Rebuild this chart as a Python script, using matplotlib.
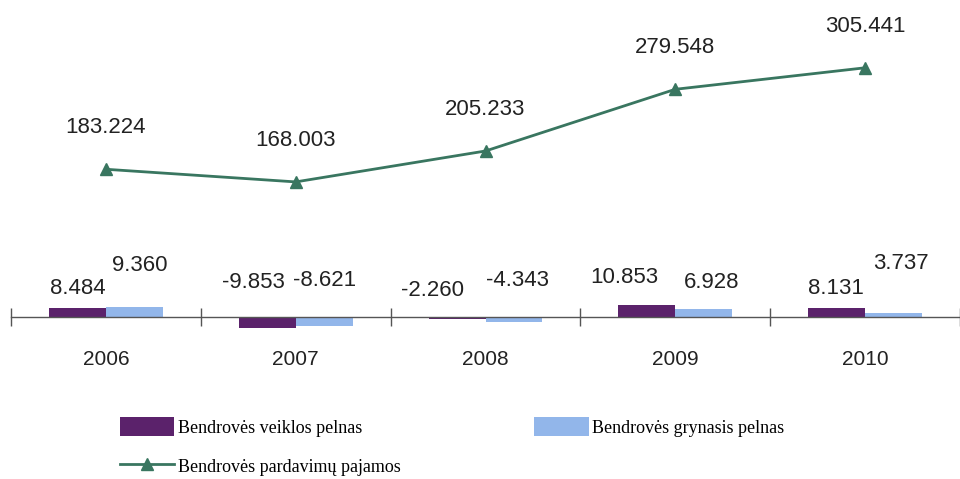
import matplotlib
matplotlib.use('Agg')
import matplotlib.pyplot as plt
import numpy as np

years = ['2006', '2007', '2008', '2009', '2010']
veiklos_pelnas = [8.484, -9.853, -2.260, 10.853, 8.131]
grynasis_pelnas = [9.360, -8.621, -4.343, 6.928, 3.737]
pardavimu_pajamos = [183.224, 168.003, 205.233, 279.548, 305.441]

label_op = 'Bendrovės veiklos pelnas'
label_net = 'Bendrovės grynasis pelnas'
label_sales = 'Bendrovės pardavimų pajamos'

# value label nudges (pixels, relative to bar centre on the zero line)
op_nudge = [(0, 29), (-14, 35), (-25, 27), (-23, 40), (-1, 29)]
net_nudge = [(5, 52), (0, 37), (4, 37), (8, 35), (7, 54)]

purple = '#5b226b'
blue = '#92b6ea'
green = '#397660'
txt = '#222222'

plt.rcParams['font.family'] = ['Liberation Sans', 'DejaVu Sans']

fig = plt.figure(figsize=(9.6, 4.79), dpi=100)
W, H = 960, 479
px = 72 / 100  # pixel -> point
# axes box in pixels: x 11..960, y 20..340 (from top)
ax = fig.add_axes([11 / W, 1 - 340 / H, 949 / W, 320 / H])
x = np.arange(len(years))
bw = 0.3

b1 = ax.bar(x - bw / 2, veiklos_pelnas, bw, color=purple, label=label_op, zorder=2)
b2 = ax.bar(x + bw / 2, grynasis_pelnas, bw, color=blue, label=label_net, zorder=2)
ax.set_ylim(-20.9, 270)
ax.set_xlim(-0.5, len(years) - 0.5)

for sp in ['top', 'right', 'left']:
    ax.spines[sp].set_visible(False)
ax.spines['bottom'].set_position(('data', 0))
ax.spines['bottom'].set_color('#555555')
ax.spines['bottom'].set_linewidth(1)
ax.set_yticks([])
ax.set_xticks(x)
ax.set_xticklabels(years, fontsize=15, color=txt)
ax.tick_params(axis='x', which='major', length=0, pad=24)
ax.set_xticks(np.arange(-0.5, len(years)), minor=True)
ax.tick_params(axis='x', which='minor', direction='inout', length=13,
               width=1, color='#555555')

for xi, v, (dx, dy) in zip(x, veiklos_pelnas, op_nudge):
    ax.annotate(f'{v:.3f}', (xi - bw / 2, 0), xytext=(dx * px, dy * px),
                textcoords='offset points', ha='center', va='center',
                fontsize=16, color=txt)
for xi, v, (dx, dy) in zip(x, grynasis_pelnas, net_nudge):
    ax.annotate(f'{v:.3f}', (xi + bw / 2, 0), xytext=(dx * px, dy * px),
                textcoords='offset points', ha='center', va='center',
                fontsize=16, color=txt)

ax2 = ax.twinx()
ln, = ax2.plot(x, pardavimu_pajamos, color=green, lw=2, marker='^',
               markersize=9, label=label_sales)
ax2.set_ylim(-22.4, 363)
ax2.axis('off')
for xi, v in zip(x, pardavimu_pajamos):
    ax2.annotate(f'{v:.3f}', (xi, v), xytext=(0, 30),
                 textcoords='offset points', ha='center', va='center',
                 fontsize=16, color=txt)

leg = fig.legend([b1, ln, b2], [label_op, label_sales, label_net],
                 loc='upper left', bbox_to_anchor=(104 / W, 1 - 401 / H),
                 ncol=2, frameon=False, handlelength=3.0, handleheight=1.2,
                 columnspacing=7.4, labelspacing=1.1, handletextpad=0.2,
                 prop={'family': 'Liberation Serif', 'size': 13})

fig.savefig('out.png', dpi=100, facecolor='white')
